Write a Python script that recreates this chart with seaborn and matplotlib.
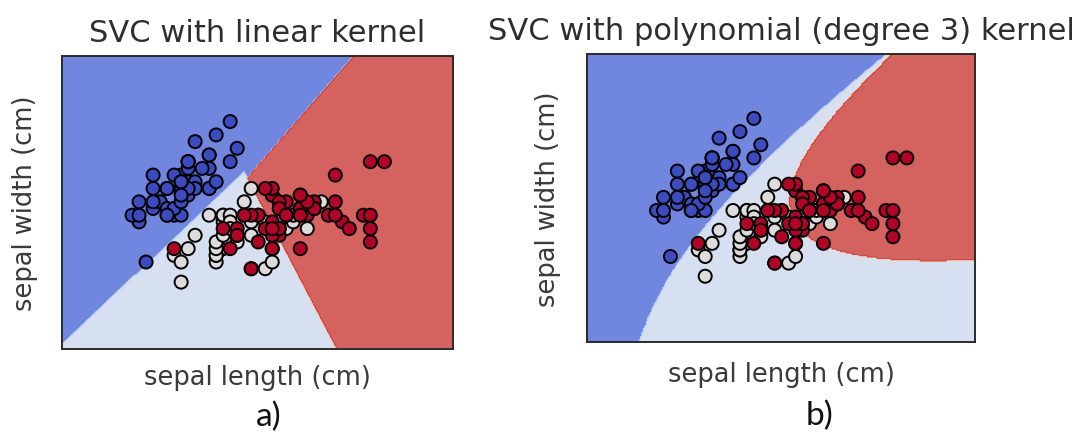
import numpy as np
import pandas as pd
import matplotlib
matplotlib.use("Agg")
import matplotlib.pyplot as plt
import seaborn as sns

# Iris measurements: sepal length / sepal width (cm) per species
setosa_length = [5.1, 4.9, 4.7, 4.6, 5.0, 5.4, 4.6, 5.0, 4.4, 4.9, 5.4, 4.8, 4.8, 4.3, 5.8, 5.7, 5.4,
                 5.1, 5.7, 5.1, 5.4, 5.1, 4.6, 5.1, 4.8, 5.0, 5.0, 5.2, 5.2, 4.7, 4.8, 5.4, 5.2, 5.5,
                 4.9, 5.0, 5.5, 4.9, 4.4, 5.1, 5.0, 4.5, 4.4, 5.0, 5.1, 4.8, 5.1, 4.6, 5.3, 5.0]
setosa_width = [3.5, 3.0, 3.2, 3.1, 3.6, 3.9, 3.4, 3.4, 2.9, 3.1, 3.7, 3.4, 3.0, 3.0, 4.0, 4.4, 3.9,
                3.5, 3.8, 3.8, 3.4, 3.7, 3.6, 3.3, 3.4, 3.0, 3.4, 3.5, 3.4, 3.2, 3.1, 3.4, 4.1, 4.2,
                3.1, 3.2, 3.5, 3.6, 3.0, 3.4, 3.5, 2.3, 3.2, 3.5, 3.8, 3.0, 3.8, 3.2, 3.7, 3.3]
versicolor_length = [7.0, 6.4, 6.9, 5.5, 6.5, 5.7, 6.3, 4.9, 6.6, 5.2, 5.0, 5.9, 6.0, 6.1, 5.6, 6.7,
                     5.6, 5.8, 6.2, 5.6, 5.9, 6.1, 6.3, 6.1, 6.4, 6.6, 6.8, 6.7, 6.0, 5.7, 5.5, 5.5,
                     5.8, 6.0, 5.4, 6.0, 6.7, 6.3, 5.6, 5.5, 5.5, 6.1, 5.8, 5.0, 5.6, 5.7, 5.7, 6.2,
                     5.1, 5.7]
versicolor_width = [3.2, 3.2, 3.1, 2.3, 2.8, 2.8, 3.3, 2.4, 2.9, 2.7, 2.0, 3.0, 2.2, 2.9, 2.9, 3.1,
                    3.0, 2.7, 2.2, 2.5, 3.2, 2.8, 2.5, 2.8, 2.9, 3.0, 2.8, 3.0, 2.9, 2.6, 2.4, 2.4,
                    2.7, 2.7, 3.0, 3.4, 3.1, 2.3, 3.0, 2.5, 2.6, 3.0, 2.6, 2.3, 2.7, 3.0, 2.9, 2.9,
                    2.5, 2.8]
virginica_length = [6.3, 5.8, 7.1, 6.3, 6.5, 7.6, 4.9, 7.3, 6.7, 7.2, 6.5, 6.4, 6.8, 5.7, 5.8, 6.4,
                    6.5, 7.7, 7.7, 6.0, 6.9, 5.6, 7.7, 6.3, 6.7, 7.2, 6.2, 6.1, 6.4, 7.2, 7.4, 7.9,
                    6.4, 6.3, 6.1, 7.7, 6.3, 6.4, 6.0, 6.9, 6.7, 6.9, 5.8, 6.8, 6.7, 6.7, 6.3, 6.5,
                    6.2, 5.9]
virginica_width = [3.3, 2.7, 3.0, 2.9, 3.0, 3.0, 2.5, 2.9, 2.5, 3.6, 3.2, 2.7, 3.0, 2.5, 2.8, 3.2,
                   3.0, 3.8, 2.6, 2.2, 3.2, 2.8, 2.8, 2.7, 3.3, 3.2, 2.8, 3.0, 2.8, 3.0, 2.8, 3.8,
                   2.8, 2.8, 2.6, 3.0, 3.4, 3.1, 3.0, 3.1, 3.1, 3.1, 2.7, 3.2, 3.3, 3.0, 2.5, 3.0,
                   3.4, 3.0]
species = ["setosa", "versicolor", "virginica"]

titles = ["SVC with linear kernel", "SVC with polynomial (degree 3) kernel"]
panel_tags = ["a)", "b)"]
x_label = "sepal length (cm)"
y_label = "sepal width (cm)"

df = pd.DataFrame({
    "length": setosa_length + versicolor_length + virginica_length,
    "width": setosa_width + versicolor_width + virginica_width,
    "label": [0] * len(setosa_length) + [1] * len(versicolor_length) + [2] * len(virginica_length),
})
X = df[["length", "width"]].to_numpy()
y = df["label"].to_numpy()


def linear_kernel(A, B):
    return A @ B.T


def poly_kernel(A, B, gamma=0.5, degree=3):
    return (gamma * (A @ B.T)) ** degree


def smo_solve(K, t, C=1.0, eps=1e-3, max_iter=500000):
    """Binary C-SVC dual solved with libsvm-style SMO (maximal violating pair)."""
    n = len(t)
    Q = (t[:, None] * t[None, :]) * K
    a = np.zeros(n)
    G = -np.ones(n)
    for _ in range(max_iter):
        yG = -t * G
        up = ((t > 0) & (a < C)) | ((t < 0) & (a > 0))
        low = ((t < 0) & (a < C)) | ((t > 0) & (a > 0))
        iu = np.where(up)[0]
        il = np.where(low)[0]
        i = iu[np.argmax(yG[iu])]
        j = il[np.argmin(yG[il])]
        if yG[i] - yG[j] < eps:
            break
        ai, aj = a[i], a[j]
        if t[i] != t[j]:
            quad = max(K[i, i] + K[j, j] + 2 * Q[i, j], 1e-12)
            delta = (-G[i] - G[j]) / quad
            diff = a[i] - a[j]
            a[i] += delta
            a[j] += delta
            if diff > 0:
                if a[j] < 0:
                    a[j] = 0
                    a[i] = diff
            else:
                if a[i] < 0:
                    a[i] = 0
                    a[j] = -diff
            if diff > 0:
                if a[i] > C:
                    a[i] = C
                    a[j] = C - diff
            else:
                if a[j] > C:
                    a[j] = C
                    a[i] = C + diff
        else:
            quad = max(K[i, i] + K[j, j] - 2 * Q[i, j], 1e-12)
            delta = (G[i] - G[j]) / quad
            s = a[i] + a[j]
            a[i] -= delta
            a[j] += delta
            if s > C:
                if a[i] > C:
                    a[i] = C
                    a[j] = s - C
            else:
                if a[j] < 0:
                    a[j] = 0
                    a[i] = s
            if s > C:
                if a[j] > C:
                    a[j] = C
                    a[i] = s - C
            else:
                if a[i] < 0:
                    a[i] = 0
                    a[j] = s
        G += Q[:, i] * (a[i] - ai) + Q[:, j] * (a[j] - aj)
    # bias term
    yG = t * G
    ub, lb, tot, nf = np.inf, -np.inf, 0.0, 0
    for k in range(n):
        if a[k] >= C:
            if t[k] < 0:
                ub = min(ub, yG[k])
            else:
                lb = max(lb, yG[k])
        elif a[k] <= 0:
            if t[k] > 0:
                ub = min(ub, yG[k])
            else:
                lb = max(lb, yG[k])
        else:
            tot += yG[k]
            nf += 1
    rho = tot / nf if nf > 0 else (ub + lb) / 2
    return a, rho


def fit_predict_ovo(kernel, X, y, grid):
    votes = np.zeros((grid.shape[0], 3), dtype=int)
    for p in range(3):
        for q in range(p + 1, 3):
            m = (y == p) | (y == q)
            Xs = X[m]
            t = np.where(y[m] == p, 1.0, -1.0)
            a, rho = smo_solve(kernel(Xs, Xs), t)
            dec = kernel(grid, Xs) @ (a * t) - rho
            votes[dec > 0, p] += 1
            votes[dec <= 0, q] += 1
    return np.argmax(votes, axis=1)


h = 0.02
x_min, x_max = X[:, 0].min() - 1, X[:, 0].max() + 1
y_min, y_max = X[:, 1].min() - 1, X[:, 1].max() + 1
xx, yy = np.meshgrid(np.arange(x_min, x_max, h), np.arange(y_min, y_max, h))
grid = np.c_[xx.ravel(), yy.ravel()]

sns.set_theme(style="white")
plt.rcParams["font.family"] = ["DejaVu Sans"]

fig = plt.figure(figsize=(10.82, 4.35), dpi=100)
ax_pos = [[0.0573, 0.1954, 0.3614, 0.6736], [0.5425, 0.2115, 0.3586, 0.6621]]
x_pads = [11, 14]
y_pads = [17, 19]
tag_xy = [(0.248, 0.041), (0.757, 0.044)]
cmap = plt.cm.coolwarm
palette = {0: cmap(0.0), 1: cmap(0.5), 2: cmap(1.0)}
text_color = "#3a3a3a"

for k, kernel in enumerate([linear_kernel, poly_kernel]):
    ax = fig.add_axes(ax_pos[k])
    Z = fit_predict_ovo(kernel, X, y, grid).reshape(xx.shape)
    ax.contourf(xx, yy, Z, cmap=cmap, alpha=0.8)
    sns.scatterplot(data=df, x="length", y="width", hue="label", palette=palette,
                    edgecolor="black", linewidth=1.4, s=88, legend=False, ax=ax, zorder=3)
    ax.set_xlim(xx.min(), xx.max())
    ax.set_ylim(yy.min(), yy.max())
    ax.set_xticks([])
    ax.set_yticks([])
    ax.set_xlabel(x_label, fontsize=18.5, color=text_color, labelpad=x_pads[k])
    ax.set_ylabel(y_label, fontsize=18.5, color=text_color, labelpad=y_pads[k])
    ax.set_title(titles[k], fontsize=22, color="#2e2e2e", pad=11)
    for sp in ax.spines.values():
        sp.set_visible(True)
        sp.set_color("#2a2a2a")
        sp.set_linewidth(1.4)
    fig.text(tag_xy[k][0], tag_xy[k][1], panel_tags[k], fontsize=24, family="Lato",
             color="#111111", ha="center", va="center")

fig.savefig("out.png", dpi=100, facecolor="white")
